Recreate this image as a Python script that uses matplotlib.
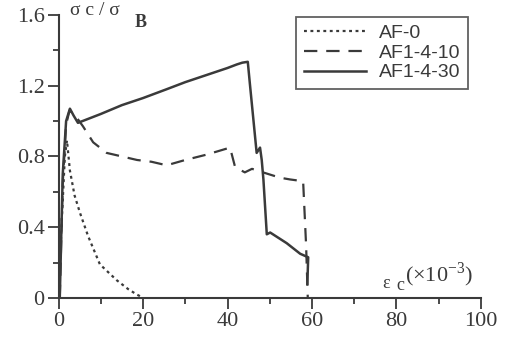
import matplotlib
matplotlib.use("Agg")
import matplotlib.pyplot as plt
from matplotlib.ticker import MultipleLocator

# strain (x10^-3) and normalised stress
af0_x = [0.0, 0.8, 1.5, 2.0, 2.7, 3.8, 5.1, 7.0, 9.8, 13.8, 16.5, 18.5, 19.3]
af0_y = [0.0, 0.45, 0.80, 0.89, 0.72, 0.58, 0.48, 0.35, 0.19, 0.10, 0.05, 0.02, 0.01]

af10_x = [0.3, 1.0, 1.8, 2.6, 4.0, 5.8, 8.2, 11.4, 15.0, 18.6, 22.0, 25.6, 30.0, 35.0, 40.6,
          41.8, 44.1, 45.8, 48.4, 52.4, 54.8, 57.9, 58.6, 59.0]
af10_y = [0.0, 0.65, 0.98, 1.06, 1.03, 0.97, 0.88, 0.82, 0.80, 0.78, 0.77, 0.75, 0.78, 0.81, 0.85,
          0.74, 0.71, 0.73, 0.71, 0.68, 0.67, 0.66, 0.30, 0.0]

af30_x = [0.3, 1.0, 1.8, 2.7, 3.6, 4.6, 10.0, 15.0, 20.0, 25.6, 30.0, 35.0, 40.0, 42.2, 43.5, 44.8,
          45.3, 46.9, 47.7, 48.1, 48.5, 49.3, 50.1, 54.0, 57.2, 59.1, 58.9]
af30_y = [0.0, 0.70, 1.00, 1.07, 1.03, 0.99, 1.04, 1.09, 1.13, 1.18, 1.22, 1.26, 1.30, 1.32, 1.33, 1.335,
          1.21, 0.82, 0.85, 0.78, 0.67, 0.36, 0.37, 0.31, 0.25, 0.23, 0.08]

xticks = [0, 20, 40, 60, 80, 100]
yticks = [0, 0.4, 0.8, 1.2, 1.6]
ytick_labels = ['0', '0.4', '0.8', '1.2', '1.6']

ink = '#3a3a3a'
serif = 'Liberation Serif'

fig = plt.figure(figsize=(5.07, 3.39), dpi=100)
ax = fig.add_axes([0.1154, 0.121, 0.8333, 0.835])

ax.plot(af0_x, af0_y, color=ink, lw=1.6, linestyle=(0, (1.3, 1.6)), label='AF-0')
ax.plot(af10_x, af10_y, color=ink, lw=1.6, linestyle=(0, (6, 4)), label='AF1-4-10')
ax.plot(af30_x, af30_y, color=ink, lw=1.8, label='AF1-4-30')

ax.set_xlim(0, 100)
ax.set_ylim(0, 1.6)
for s in ['top', 'right']:
    ax.spines[s].set_visible(False)
for s in ['left', 'bottom']:
    ax.spines[s].set_linewidth(1.5)
    ax.spines[s].set_color(ink)

ax.set_xticks(xticks)
ax.set_yticks(yticks)
ax.set_yticklabels(ytick_labels)
ax.xaxis.set_minor_locator(MultipleLocator(10))
ax.yaxis.set_minor_locator(MultipleLocator(0.2))
ax.tick_params(which='major', length=8, width=1.3, color=ink, labelsize=16, labelcolor=ink, pad=2)
ax.tick_params(which='minor', length=4.5, width=1.3, color=ink)
for lab in ax.get_xticklabels() + ax.get_yticklabels():
    lab.set_family(serif)

ax.text(0.027, 1.0, 'σ c / σ', transform=ax.transAxes, family=serif,
        fontsize=14, color=ink, va='baseline')
ax.text(0.180, 0.958, 'B', transform=ax.transAxes, family=serif, fontsize=13,
        fontweight='bold', color=ink, va='baseline')
ax.text(0.766, 0.035, 'ε', transform=ax.transAxes, family=serif,
        fontsize=13, color=ink, va='baseline')
ax.text(0.800, 0.028, 'c', transform=ax.transAxes, family=serif, fontsize=13,
        color=ink, va='baseline')
ax.text(0.820, 0.058, r'(×10$^{\mathregular{-3}}$)', transform=ax.transAxes,
        family=serif, fontsize=16, color=ink, va='baseline')

leg = ax.legend(loc='upper right', bbox_to_anchor=(0.969, 0.993), borderaxespad=0,
                fancybox=False, frameon=True, handlelength=3.2, handletextpad=0.65,
                labelspacing=0.1, borderpad=0.4,
                prop={'family': 'Liberation Sans', 'size': 14})
leg.get_frame().set_edgecolor(ink)
leg.get_frame().set_linewidth(1.3)
for t in leg.get_texts():
    t.set_color(ink)

fig.savefig('out.png', dpi=100)
